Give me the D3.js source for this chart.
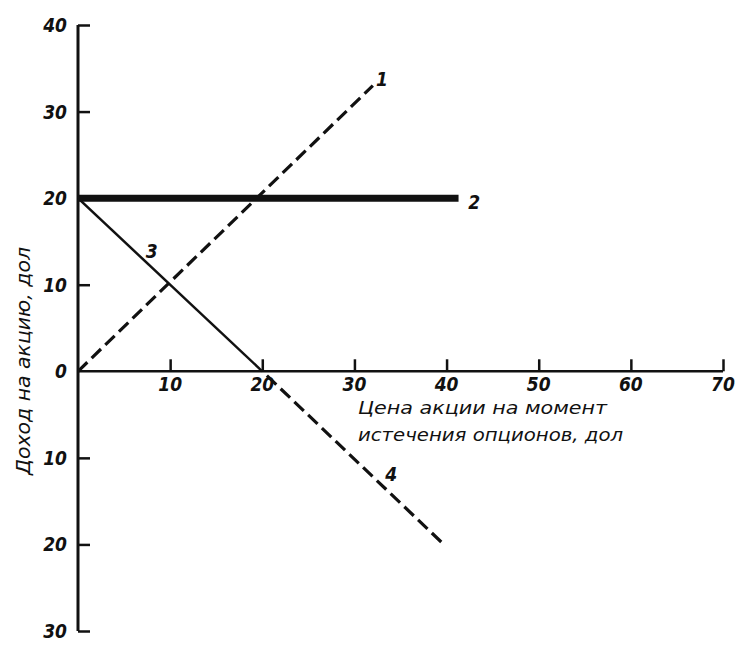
<!DOCTYPE html>
<html><head><meta charset="utf-8">
<script src="https://cdn.jsdelivr.net/npm/d3@7"></script>
<style>
body{margin:0;background:#fff;}
text{font-family:"DejaVu Sans Condensed","Liberation Sans Narrow","DejaVu Sans",sans-serif;font-style:italic;fill:#111;}
</style></head><body>
<svg id="c" width="750" height="647"></svg>
<script>
const xTicks = [10,20,30,40,50,60,70];
const yTicks = [40,30,20,10,0,-10,-20,-30];
const yTickLabels = ["40","30","20","10","0","10","20","30"];
const line1 = [[0,0],[32,33]];      // dashed, label 1
const line2 = [[0,20],[41.3,20]];   // thick, label 2
const line3 = [[0,20],[20,0]];      // solid, label 3
const line4 = [[20.5,-0.5],[39.7,-20]]; // dashed, label 4
const lineLabels = [["1",33,33.8],["2",43,19.6],["3",8,13.9],["4",34,-11.9]];
const xTitle = ["Цена акции на момент","истечения опционов, дол"];
const yTitle = "Доход на акцию, дол";

const svg = d3.select("#c");
const x = d3.scaleLinear().domain([0,70]).range([78,723]);
const y = d3.scaleLinear().domain([-30,40]).range([631,25]);
const ink = "#111";

// axes
const xAxis = d3.axisTop(x).tickValues(xTicks).tickSize(12).tickFormat("");
const gx = svg.append("g").attr("transform",`translate(0,${y(0)})`).call(xAxis);
gx.select(".domain").attr("d",`M${x(0)},0H${x(70)}`).attr("stroke",ink).attr("stroke-width",2.5);
gx.selectAll(".tick line").attr("stroke",ink).attr("stroke-width",2.5);

const yAxis = d3.axisRight(y).tickValues(yTicks).tickSize(12).tickFormat("");
const gy = svg.append("g").attr("transform",`translate(${x(0)},0)`).call(yAxis);
gy.select(".domain").attr("d",`M0,${y(40)}V${y(-30)}`).attr("stroke",ink).attr("stroke-width",3);
gy.selectAll(".tick line").attr("stroke",ink).attr("stroke-width",2.5);
gy.selectAll(".tick").filter(d=>d===0).remove();

// tick labels
svg.append("g").selectAll("text").data(xTicks).join("text")
  .attr("x",d=>x(d)).attr("y",y(0)+20).attr("text-anchor","middle")
  .attr("font-size",19).attr("font-weight","bold").text(d=>d);
svg.append("g").selectAll("text").data(yTicks).join("text")
  .attr("x",x(0)-11).attr("y",d=>y(d)+7).attr("text-anchor","end")
  .attr("font-size",19).attr("font-weight","bold").text((d,i)=>yTickLabels[i]);

// lines
const lg = d3.line().x(d=>x(d[0])).y(d=>y(d[1]));
svg.append("path").attr("d",lg(line3)).attr("stroke",ink).attr("stroke-width",2.5).attr("fill","none");
svg.append("path").attr("d",lg(line1)).attr("stroke",ink).attr("stroke-width",3.2).attr("fill","none").attr("stroke-dasharray","13,6");
svg.append("path").attr("d",lg(line4)).attr("stroke",ink).attr("stroke-width",3.2).attr("fill","none").attr("stroke-dasharray","13,6");
svg.append("path").attr("d",lg(line2)).attr("stroke",ink).attr("stroke-width",7).attr("fill","none");

svg.append("g").selectAll("text").data(lineLabels).join("text")
  .attr("x",d=>x(d[1])).attr("y",d=>y(d[2])+7).attr("text-anchor","middle")
  .attr("font-size",19).attr("font-weight","bold").text(d=>d[0]);

// titles
svg.append("text").attr("x",358).attr("y",414).attr("font-size",18)
  .attr("textLength",249).attr("lengthAdjust","spacingAndGlyphs").text(xTitle[0]);
svg.append("text").attr("x",358).attr("y",441).attr("font-size",18)
  .attr("textLength",265).attr("lengthAdjust","spacingAndGlyphs").text(xTitle[1]);
svg.append("text").attr("transform","translate(30,361) rotate(-90)")
  .attr("text-anchor","middle").attr("font-size",19)
  .attr("textLength",228).attr("lengthAdjust","spacingAndGlyphs").text(yTitle);
</script></body></html>
